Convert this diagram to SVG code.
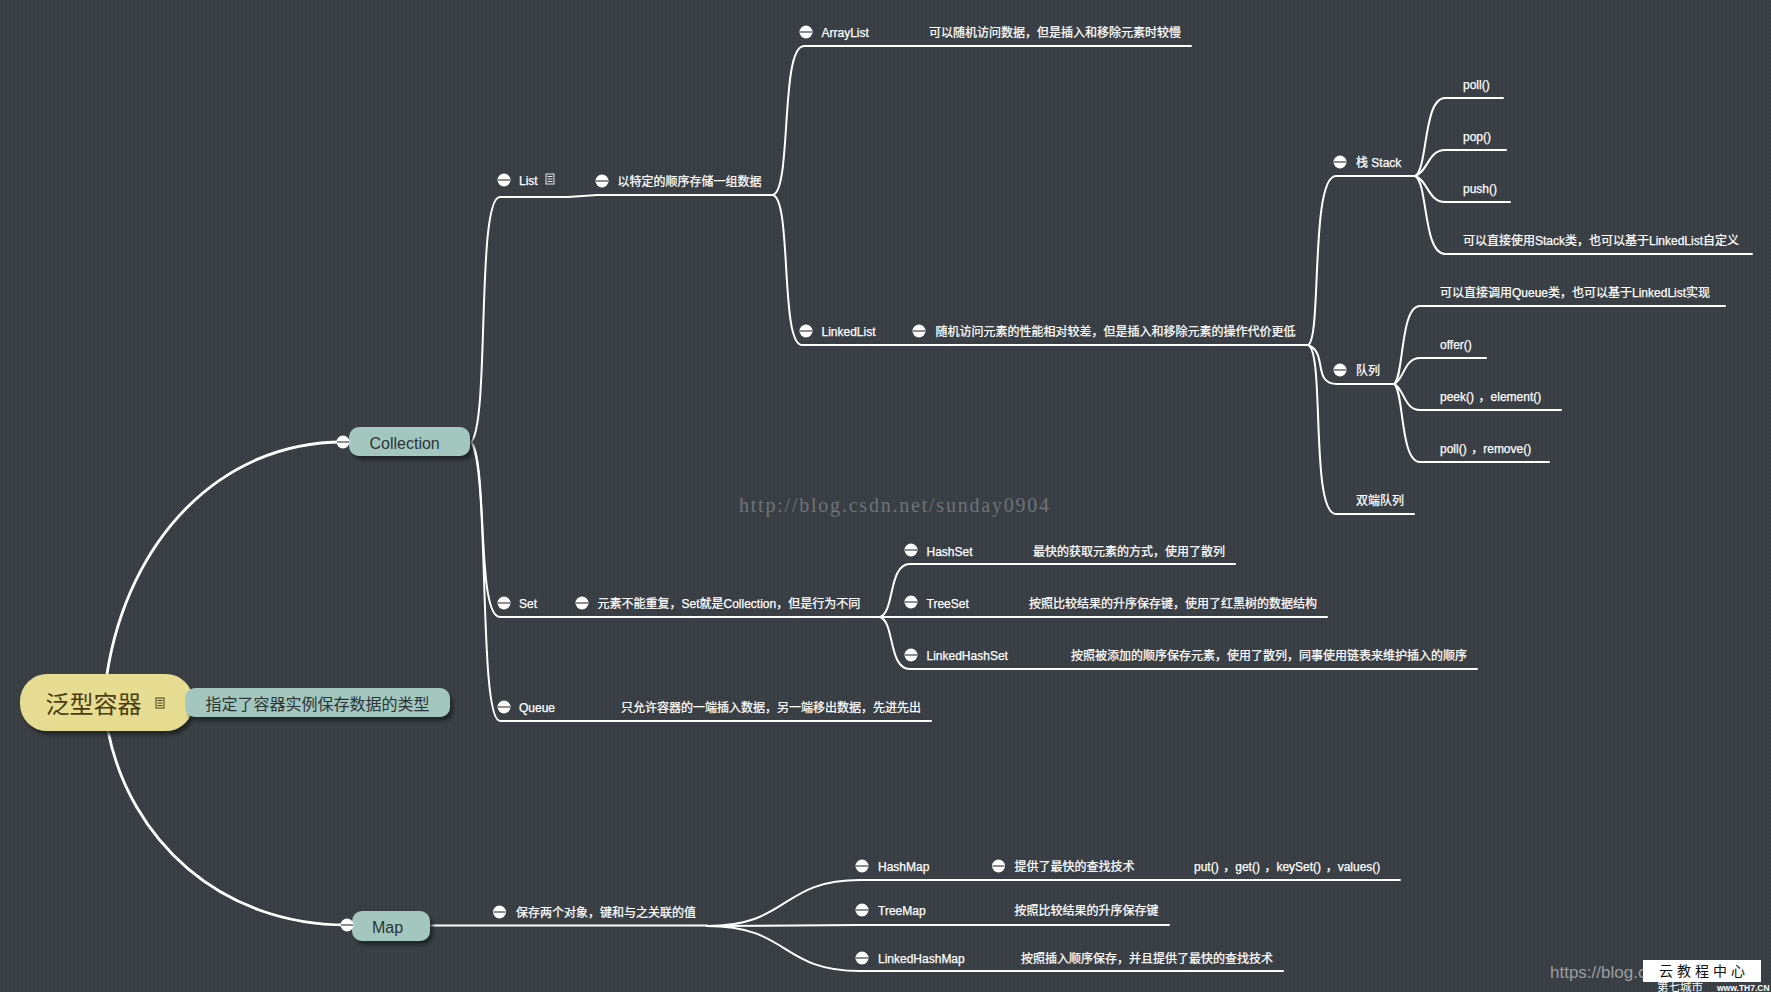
<svg xmlns="http://www.w3.org/2000/svg" width="1771" height="992" viewBox="0 0 1771 992">
<style>
text{font-family:"Liberation Sans","Noto Sans CJK SC",sans-serif}
.t{font-size:12px;fill:#fff;stroke:#fff;stroke-width:.25}
.w{word-spacing:1.2px}
.e{fill:none;stroke:#fff;stroke-width:2;stroke-linecap:round}
.m{fill:#fff}
.big{fill:#a3c6bf;filter:url(#sh)}
.n{font-size:16px;fill:#2b3436}
.ic{fill:none;stroke:currentColor;stroke-width:1}
</style>
<defs>
<pattern id="bg" width="4" height="4" patternUnits="userSpaceOnUse"><rect width="4" height="4" fill="#3a4045"/><rect x="1" y="1" width="2" height="2" fill="#363c41"/></pattern>
<filter id="sh" x="-10%" y="-20%" width="120%" height="150%"><feDropShadow dx="3" dy="4" stdDeviation="1.5" flood-color="#1c2023" flood-opacity=".8"/></filter>
<g id="minus"><circle r="6.5" class="m"/><rect x="-6" y="-1" width="12" height="2" fill="#8b8f92"/></g>
<g id="note"><rect x="-4" y="-5" width="8" height="10" class="ic"/><path d="M-2.500-2.500H2.500M-2.500 0H2.500M-2.500 2.500H2.500" class="ic"/></g>
</defs>
<rect width="1771" height="992" fill="url(#bg)"/>
<g id="connectors">
<path d="M107 674C128 540 220 442 343 442" fill="none" stroke="#fff" stroke-width="2.800"/>
<path d="M108 731C130 840 220 925 347 925" fill="none" stroke="#fff" stroke-width="2.800"/>
<path class="e" d="M471 442C490 425 476 197 500 197H568L597 195H773"/>
<path class="e" d="M471 442C488 460 476 617 500 617H880"/>
<path class="e" d="M471 442C490 465 478 721 500 721H931"/>
<path class="e" d="M773 195C792 190 780 46 804 46H1191"/>
<path class="e" d="M773 195C792 200 780 345 802 345H1308"/>
<path class="e" d="M1308 345C1322 340 1310 176 1336 176H1415"/>
<path class="e" d="M1308 345C1328 352 1312 384 1337 384H1394"/>
<path class="e" d="M1308 345C1325 350 1310 514 1336 514H1414"/>
<path class="e" d="M1415 176C1428 170 1423 98 1445 98H1503"/>
<path class="e" d="M1415 176C1428 172 1428 150 1445 150H1506"/>
<path class="e" d="M1415 176C1428 180 1428 202 1445 202H1510"/>
<path class="e" d="M1415 176C1428 182 1423 254 1445 254H1752"/>
<path class="e" d="M1394 384C1404 378 1400 306 1420 306H1725"/>
<path class="e" d="M1394 384C1404 380 1404 358 1420 358H1486"/>
<path class="e" d="M1394 384C1404 388 1404 410 1420 410H1561"/>
<path class="e" d="M1394 384C1404 390 1400 462 1420 462H1549"/>
<path class="e" d="M880 617C895 612 888 564 910 564H1235"/>
<path class="e" d="M880 617H1327"/>
<path class="e" d="M880 617C895 622 888 669 910 669H1477"/>
<path class="e" d="M430 925.500H707"/>
<path class="e" d="M707 926C790 926 780 880 860 880H1400"/>
<path class="e" d="M707 926L860 925H1169"/>
<path class="e" d="M707 926C790 926 780 971 860 971H1283"/>
</g>
<g id="central"><rect x="20" y="674" width="173" height="57" rx="27" fill="#e6dc92" filter="url(#sh)"/><text x="45.500" y="713" font-size="24" fill="#4a3c10">泛型容器</text><use href="#note" x="160" y="703" color="#4a3c10"/></g>
<g id="note-central"><rect class="big" x="185" y="688" width="265" height="29" rx="10"/><text class="n" x="205.500" y="710">指定了容器实例保存数据的类型</text></g>
<g id="collection"><rect class="big" x="349" y="427" width="121" height="29" rx="10"/><text class="n" x="369.500" y="449">Collection</text><use href="#minus" x="343" y="442"/></g>
<g id="map"><rect class="big" x="352" y="911" width="78" height="30" rx="10"/><text class="n" x="372" y="933">Map</text><use href="#minus" x="347" y="925"/></g>
<g id="list"><use href="#minus" x="504" y="180"/><text class="t" x="519" y="185">List</text><use href="#note" x="550" y="179" color="#e8e8e8"/></g>
<g id="list-desc"><use href="#minus" x="602" y="181"/><text class="t" x="617.500" y="186">以特定的顺序存储一组数据</text></g>
<g id="arraylist"><use href="#minus" x="806" y="32"/><text class="t" x="821.500" y="37">ArrayList</text><text class="t" x="929" y="37">可以随机访问数据，但是插入和移除元素时较慢</text></g>
<g id="linkedlist"><use href="#minus" x="806" y="331"/><text class="t" x="821.500" y="336">LinkedList</text><use href="#minus" x="919" y="331"/><text class="t" x="935.500" y="336">随机访问元素的性能相对较差，但是插入和移除元素的操作代价更低</text></g>
<g id="stack"><use href="#minus" x="1340" y="162"/><text class="t" x="1356" y="167">栈 Stack</text></g>
<g id="stack-poll"><text class="t" x="1463" y="89">poll()</text></g>
<g id="stack-pop"><text class="t" x="1463" y="141">pop()</text></g>
<g id="stack-push"><text class="t" x="1463" y="193">push()</text></g>
<g id="stack-note"><text class="t" x="1463" y="245">可以直接使用Stack类，也可以基于LinkedList自定义</text></g>
<g id="queue-cn"><use href="#minus" x="1340" y="370"/><text class="t" x="1356" y="375">队列</text></g>
<g id="queue-note"><text class="t" x="1440" y="297">可以直接调用Queue类，也可以基于LinkedList实现</text></g>
<g id="queue-offer"><text class="t" x="1440" y="349">offer()</text></g>
<g id="queue-peek"><text class="t w" x="1440" y="401">peek() ，element()</text></g>
<g id="queue-poll"><text class="t w" x="1440" y="453">poll() ，remove()</text></g>
<g id="deque"><text class="t" x="1356" y="505">双端队列</text></g>
<g id="set"><use href="#minus" x="504" y="603"/><text class="t" x="519" y="608">Set</text><use href="#minus" x="582" y="603"/><text class="t" x="597.500" y="608">元素不能重复，Set就是Collection，但是行为不同</text></g>
<g id="hashset"><use href="#minus" x="911" y="550"/><text class="t" x="926.500" y="556">HashSet</text><text class="t" x="1033" y="556">最快的获取元素的方式，使用了散列</text></g>
<g id="treeset"><use href="#minus" x="911" y="602"/><text class="t" x="926.500" y="608">TreeSet</text><text class="t" x="1029" y="608">按照比较结果的升序保存键，使用了红黑树的数据结构</text></g>
<g id="linkedhashset"><use href="#minus" x="911" y="655"/><text class="t" x="926.500" y="660">LinkedHashSet</text><text class="t" x="1071" y="660">按照被添加的顺序保存元素，使用了散列，同事使用链表来维护插入的顺序</text></g>
<g id="queue"><use href="#minus" x="504" y="707"/><text class="t" x="519" y="712">Queue</text><text class="t" x="621" y="712">只允许容器的一端插入数据，另一端移出数据，先进先出</text></g>
<g id="map-desc"><use href="#minus" x="499.500" y="912"/><text class="t" x="516" y="917">保存两个对象，键和与之关联的值</text></g>
<g id="hashmap"><use href="#minus" x="862" y="866"/><text class="t" x="878" y="871">HashMap</text><use href="#minus" x="998.500" y="866"/><text class="t" x="1014.500" y="871">提供了最快的查找技术</text><text class="t w" x="1194" y="871">put() ，get() ，keySet() ，values()</text></g>
<g id="treemap"><use href="#minus" x="862" y="910"/><text class="t" x="878" y="915">TreeMap</text><text class="t" x="1014.500" y="915">按照比较结果的升序保存键</text></g>
<g id="linkedhashmap"><use href="#minus" x="862" y="958"/><text class="t" x="878" y="963">LinkedHashMap</text><text class="t" x="1021" y="963">按照插入顺序保存，并且提供了最快的查找技术</text></g>
<text x="739" y="512" font-size="20" textLength="310" lengthAdjust="spacing" style="font-family:'Liberation Serif',serif" fill="#6e7478">http://blog.csdn.net/sunday0904</text>
<text x="1550" y="978" font-size="17" fill="#9a9ea0">https://blog.csd</text>
<text x="1657" y="991" font-size="11.500" fill="#fff">第七城市</text>
<text x="1717" y="991" font-size="8.500" font-weight="bold" fill="#fff">www.TH7.CN</text>
<rect x="1643" y="960" width="118" height="22" fill="#fff"/>
<text x="1659" y="976" font-size="14" letter-spacing="4" fill="#111">云教程中心</text>
</svg>
